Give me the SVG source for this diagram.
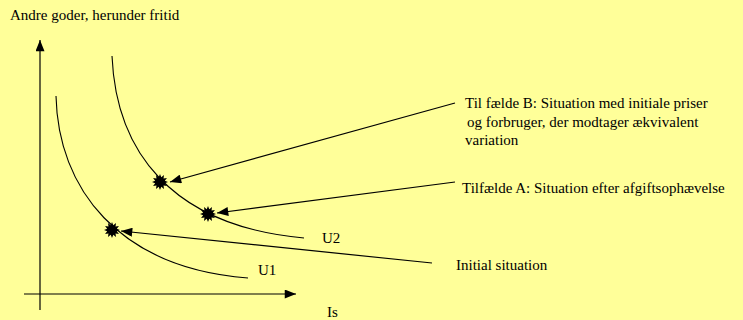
<svg xmlns="http://www.w3.org/2000/svg" xmlns:xlink="http://www.w3.org/1999/xlink" width="743" height="320" viewBox="0 0 743 320">
  <defs>
    <style>
      .t { font-family: "Liberation Serif", "Times New Roman", serif; font-size: 15px; fill: #000; }
      .ln { fill: none; stroke: #000; stroke-width: 1.2; }
      .cv { fill: none; stroke: #000; stroke-width: 1.1; }
      .st { fill: #000; stroke: none; }
    </style>
    <marker id="ah" viewBox="0 0 10 8" refX="10" refY="4" markerWidth="12" markerHeight="9" markerUnits="userSpaceOnUse" orient="auto">
      <path d="M0,0 L10,4 L0,8 Z" fill="#000"/>
    </marker>
    <polygon id="star" points="8,0 4.83,1.29 6.93,4 3.54,3.54 4,6.93 1.29,4.83 0,8 -1.29,4.83 -4,6.93 -3.54,3.54 -6.93,4 -4.83,1.29 -8,0 -4.83,-1.29 -6.93,-4 -3.54,-3.54 -4,-6.93 -1.29,-4.83 0,-8 1.29,-4.83 4,-6.93 3.54,-3.54 6.93,-4 4.83,-1.29"/>
  </defs>
  <rect x="0" y="0" width="743" height="320" fill="#FFFF99"/>

  <g id="axes">
    <line class="ln" x1="40" y1="310" x2="40" y2="40" marker-end="url(#ah)"/>
    <line class="ln" x1="24" y1="294" x2="296" y2="294" marker-end="url(#ah)"/>
    <text class="t" x="10" y="20">Andre goder, herunder fritid</text>
    <text class="t" x="327" y="317">Is</text>
  </g>

  <g id="U1">
    <path class="cv" d="M56,96 C58,188 118,268 248,278"/>
    <text class="t" x="258" y="275">U1</text>
  </g>
  <g id="U2">
    <path class="cv" d="M112,56 C116,150 170,226 304,238"/>
    <text class="t" x="322" y="243">U2</text>
  </g>

  <g id="pointB"><use xlink:href="#star" class="st" x="160" y="182"/></g>
  <g id="pointA"><use xlink:href="#star" class="st" x="208" y="214"/></g>
  <g id="pointInitial"><use xlink:href="#star" class="st" x="112" y="230"/></g>

  <g id="labelB">
    <text class="t" x="465" y="108">Til fælde B: Situation med initiale priser</text>
    <text class="t" x="467" y="127">og forbruger, der modtager ækvivalent</text>
    <text class="t" x="465" y="145">variation</text>
  </g>
  <g id="labelA">
    <text class="t" x="462" y="193">Tilfælde A: Situation efter afgiftsophævelse</text>
  </g>
  <g id="labelInitial">
    <text class="t" x="456" y="270">Initial situation</text>
  </g>

  <g id="connectors">
    <line class="ln" x1="455" y1="103" x2="170" y2="182" marker-end="url(#ah)"/>
    <line class="ln" x1="455" y1="182" x2="217" y2="213" marker-end="url(#ah)"/>
    <line class="ln" x1="432" y1="263" x2="121" y2="231" marker-end="url(#ah)"/>
  </g>
</svg>
